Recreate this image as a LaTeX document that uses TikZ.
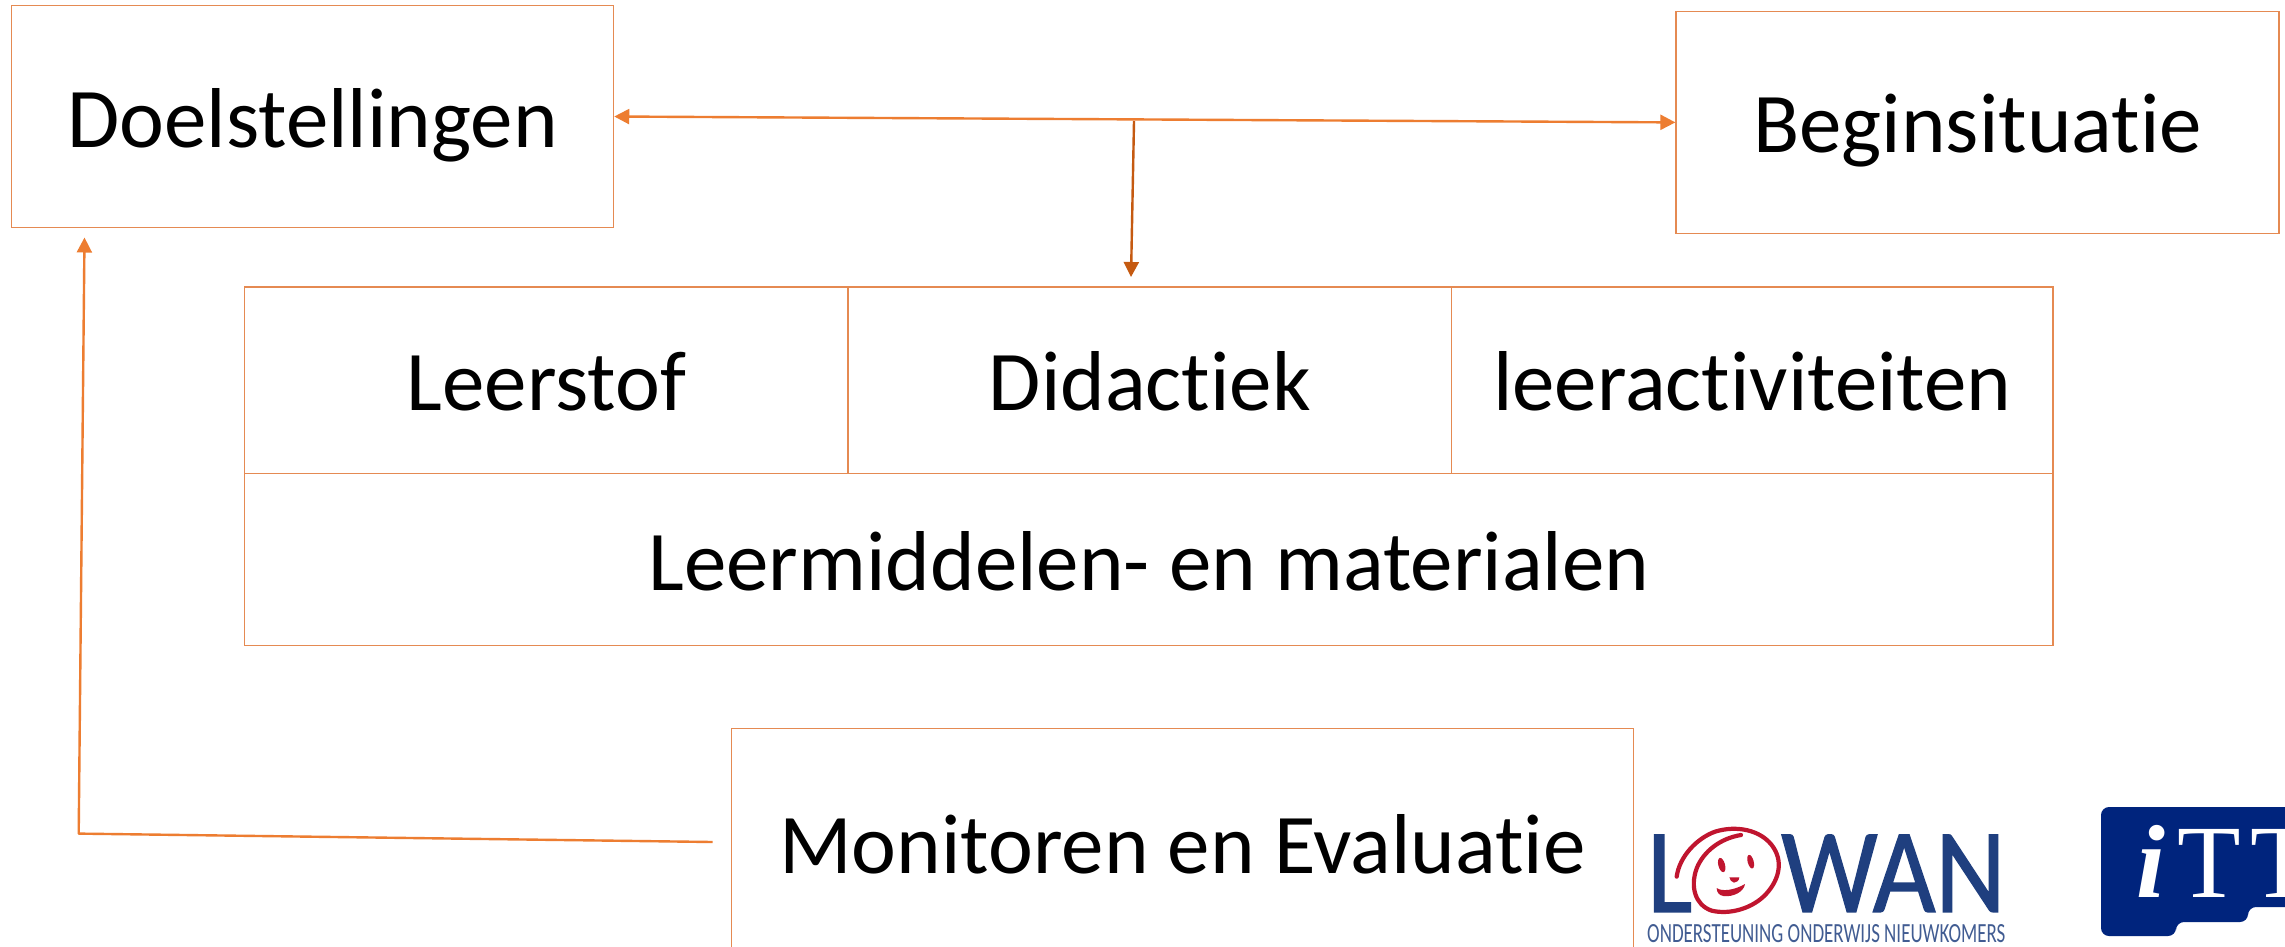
\documentclass[tikz,border=0pt]{standalone}
\usepackage{fontspec}
\usepackage{graphicx}
\setmainfont{Carlito}[RawFeature=-liga]
\newfontfamily\serifface{Liberation Serif}
\newfontfamily\logoface{Carlito}[FakeBold=1.2]
\definecolor{lineor}{HTML}{ED7D31}
\definecolor{boxor}{HTML}{E58A52}
\definecolor{darkor}{HTML}{C55A11}
\definecolor{lowanblue}{HTML}{1F3F7F}
\definecolor{lowanred}{HTML}{C0152F}
\definecolor{ittblue}{HTML}{00247D}
\usetikzlibrary{arrows.meta}
\tikzset{
  cell/.style={draw=boxor,line width=1.3pt,inner sep=0pt,font=\fontsize{85}{90}\selectfont,text=black,text height=66pt,text depth=5pt,align=center},
  link/.style={draw=lineor,line width=2.4pt},
  tip/.style={-{Triangle[length=15pt,width=15pt]}},
  tips/.style={{Triangle[length=15pt,width=15pt]}-{Triangle[length=15pt,width=15pt]}}
}
\begin{document}
\begin{tikzpicture}[x=1pt,y=-1pt]
\clip (0,0) rectangle (2285,946);
\fill[white] (0,0) rectangle (2285,946);
\node[cell,minimum width=602pt,minimum height=221.5pt] (doel) at (312.6,116.5) {Doelstellingen};
\node[cell,minimum width=603pt,minimum height=221.5pt] (begin) at (1977.5,122.4) {Beginsituatie};
\node[cell,minimum width=603.2pt,minimum height=186.6pt] (leerstof) at (546.4,380.3) {Leerstof};
\node[cell,minimum width=603.5pt,minimum height=186.6pt] (didactiek) at (1149.75,380.3) {Didactiek};
\node[cell,minimum width=601.5pt,minimum height=186.6pt] (activ) at (1752.25,380.3) {leeractiviteiten};
\node[cell,minimum width=1808.2pt,minimum height=172pt] (middelen) at (1148.9,559.6) {Leermiddelen- en materialen};
\node[cell,minimum width=902pt,minimum height=228pt] (monitor) at (1182.5,842.6) {Monitoren en Evaluatie};
\coordinate (split) at (1134,121);
\coordinate (vtip) at (1131,277);
\coordinate (mstart) at (712.6,842);
\coordinate (corner) at (78.7,833.6);
\coordinate (dtip) at (84.5,237.5);
\draw[link,tips] (doel.east) -- (begin.west);
\draw[link,draw=darkor,tip] (split) -- (vtip);
\draw[link,tip,line join=round] (mstart) -- (corner) -- (dtip);
% LOWAN logo
\node[anchor=south west,inner sep=0pt,text=lowanblue] (lowanl) at (1647,912) {\resizebox{45pt}{77pt}{\logoface L}};
\node[anchor=south west,inner sep=0pt,text=lowanblue] (lowanw) at (1781,912) {\resizebox{224pt}{77pt}{\logoface WAN}};
\node[anchor=south west,inner sep=0pt,text=lowanblue!85!white] (lowans) at (1647,943) {\resizebox{358pt}{18pt}{ONDERSTEUNING ONDERWIJS NIEUWKOMERS}};
\begin{scope}[shift={(1640,810)},x=0.3333pt,y=-0.3333pt,line cap=round,line join=round]
\draw[line width=4.2pt,lowanred] (110,200) .. controls (118,140) and (170,85) .. (225,65) .. controls (290,45) and (360,60) .. (395,105) .. controls (430,150) and (420,205) .. (380,250) .. controls (340,295) and (270,315) .. (215,302) .. controls (165,285) and (150,230) .. (170,175) .. controls (190,125) and (240,85) .. (303,75);
\fill[lowanred,rotate around={15:(245,165)}] (245,165) ellipse (10 and 22);
\fill[lowanred,rotate around={15:(332,155)}] (332,155) ellipse (9 and 21);
\fill[lowanred] (268,202) -- (298,202) .. controls (297,212) and (290,218) .. (282,218) .. controls (274,216) and (270,210) .. (268,202) -- cycle;
\fill[lowanred] (230,234) .. controls (245,246) and (285,240) .. (315,222) .. controls (312,245) and (280,262) .. (250,258) .. controls (238,256) and (230,248) .. (230,234) -- cycle;
\end{scope}
% iTT logo
\fill[ittblue,rounded corners=8pt] (2101,807) -- (2300,807) -- (2300,907) -- (2248,907) -- (2248,922) -- (2176,922) -- (2176,936) -- (2101,936) -- cycle;
\node[anchor=base west,inner sep=0pt,text=white,font=\serifface\fontsize{104}{106}\selectfont] (itt) at (2136,897) {\textit{\textbf{i}}\hspace{12pt}T\hspace{10pt}T};
\end{tikzpicture}
\end{document}
